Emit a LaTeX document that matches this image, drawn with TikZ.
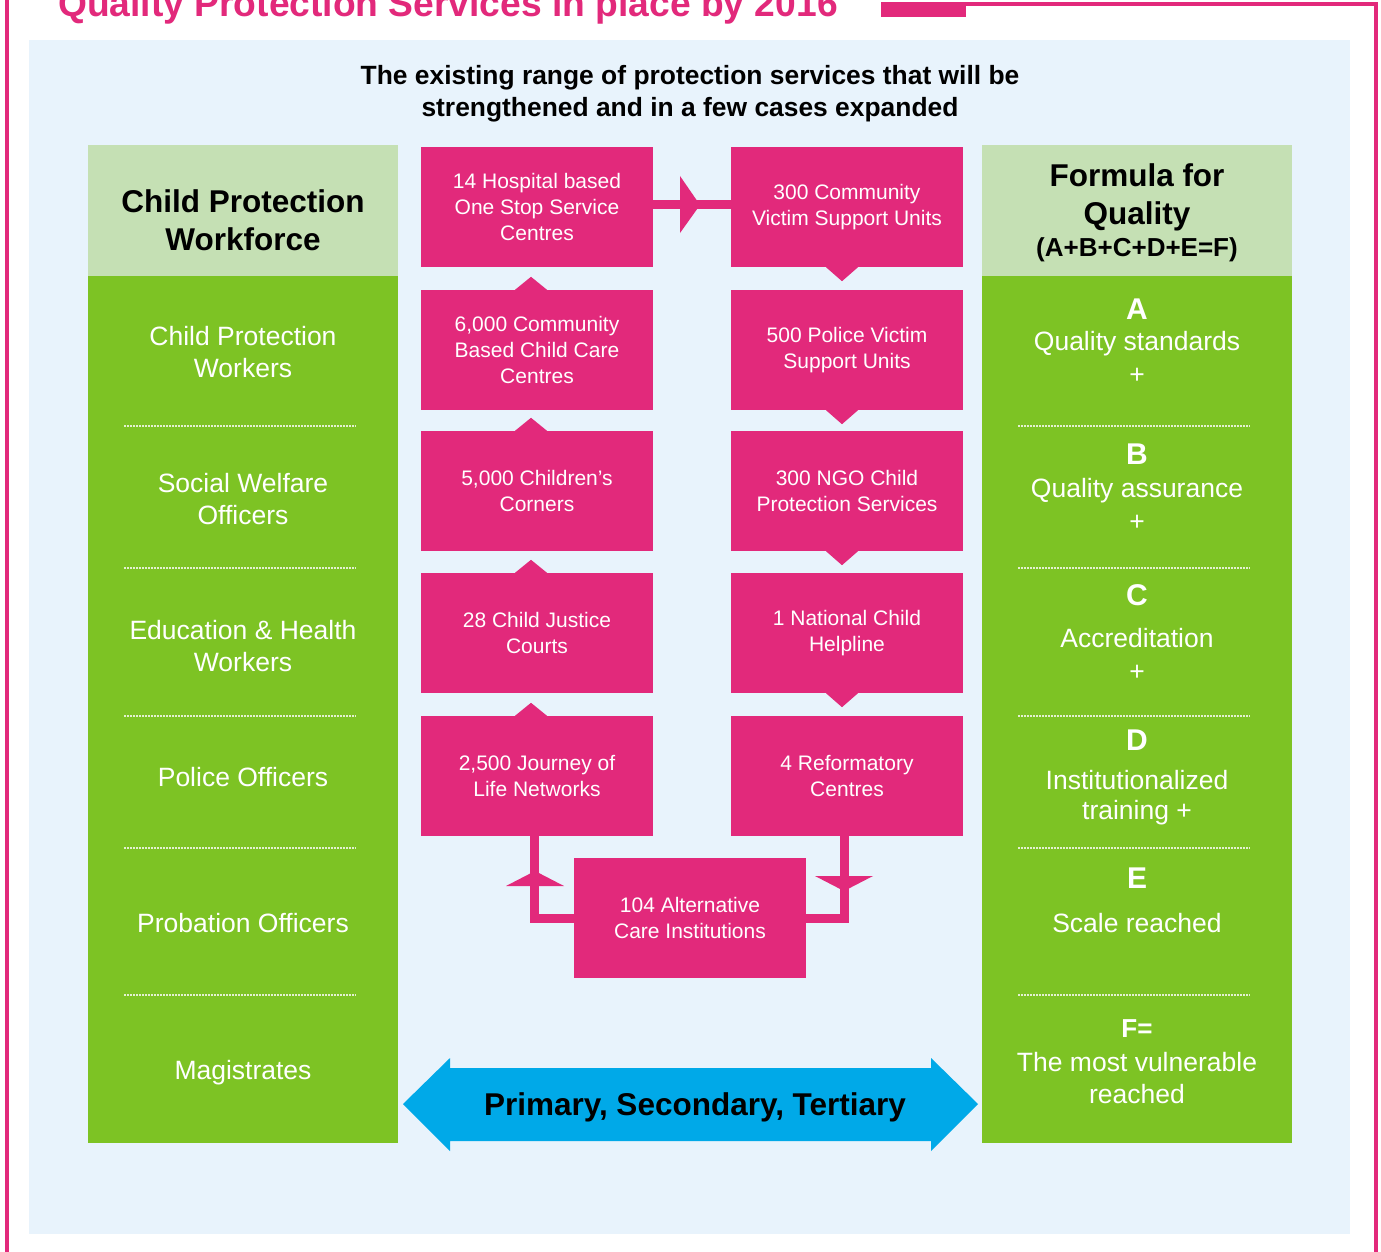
\documentclass[tikz,border=0pt]{standalone}
\usepackage{fontspec}
\setmainfont{Liberation Sans}
\usetikzlibrary{calc}
\definecolor{pk}{HTML}{E2297B}
\definecolor{gr}{HTML}{7DC324}
\definecolor{lgr}{HTML}{C5E0B4}
\definecolor{lbl}{HTML}{E8F3FC}
\definecolor{bl}{HTML}{00A9E8}
\definecolor{dotc}{HTML}{E3F0D0}
\begin{document}
\begin{tikzpicture}[x=1pt,y=-1pt,
  pbox/.style={fill=pk,minimum width=232pt,minimum height=120pt,inner sep=0pt,text=white,align=center,font=\fontsize{21}{26}\selectfont},
  gtext/.style={text=white,align=center,inner sep=0pt,font=\fontsize{26.5}{32}\selectfont},
  gletter/.style={text=white,inner sep=0pt,font=\bfseries\fontsize{30}{33}\selectfont},
  htext/.style={text=black,align=center,inner sep=0pt,font=\bfseries\fontsize{31.5}{38}\selectfont},
  colbox/.style={anchor=north west,minimum width=310pt,inner sep=0pt,outer sep=0pt},
  sepline/.style={draw=dotc,line width=1.6pt,dash pattern=on 1.6pt off 1.4pt},
  conn/.style={draw=pk,line width=9pt},
]
\useasboundingbox (0,0) rectangle (1381,1252);
\fill[white] (0,0) rectangle (1381,1252);
% frame
\fill[pk] (5,0) rectangle (9,1252);
\fill[pk] (966,2) rectangle (1378,6);
\fill[pk] (1374,2) rectangle (1378,1252);
\fill[pk] (881,2) rectangle (966,17);
\node[anchor=base,text=pk,inner sep=0pt,font=\bfseries\fontsize{37.2}{40}\selectfont] (title) at (448,17) {Quality Protection Services in place by 2016};
% background panel
\fill[lbl] (29,40) rectangle (1350,1234);
\node[align=center,inner sep=0pt,font=\bfseries\fontsize{26.4}{32}\selectfont] (head) at (690,94) {The existing range of protection services that will be\\strengthened and in a few cases expanded};

% left column
\node[colbox,fill=lgr,minimum height=131pt] (lhead) at (88,145) {};
\node[colbox,fill=gr,minimum height=867pt] (lbody) at (88,276) {};
\node[htext] (lht) at (243,220) {Child Protection\\Workforce};
\node[gtext] (w1) at (243,352) {Child Protection\\Workers};
\node[gtext] (w2) at (243,499) {Social Welfare\\Officers};
\node[gtext] (w3) at (243,646) {Education \& Health\\Workers};
\node[gtext] (w4) at (243,777) {Police Officers};
\node[gtext] (w5) at (243,923) {Probation Officers};
\node[gtext] (w6) at (243,1073) {Magistrates};

% right column
\node[colbox,fill=lgr,minimum height=131pt] (rhead) at (982,145) {};
\node[colbox,fill=gr,minimum height=867pt] (rbody) at (982,276) {};
\node[htext] (rht) at (1137,197) {Formula for\\Quality};
\node[htext,font=\bfseries\fontsize{26}{30}\selectfont] (rht2) at (1137,250) {(A+B+C+D+E=F)};
\node[gletter] (fa) at (1137,309) {A};
\node[gtext] (fa2) at (1137,344) {Quality standards};
\node[gtext] (fa3) at (1137,376) {+};
\node[gletter] (fb) at (1137,454) {B};
\node[gtext] (fb2) at (1137,491) {Quality assurance};
\node[gtext] (fb3) at (1137,523) {+};
\node[gletter] (fc) at (1137,595) {C};
\node[gtext] (fc2) at (1137,638) {Accreditation};
\node[gtext] (fc3) at (1137,673) {+};
\node[gletter] (fd) at (1137,740) {D};
\node[gtext] (fd2) at (1137,780) {Institutionalized};
\node[gtext] (fd3) at (1137,813) {training +};
\node[gletter] (fe) at (1137,878) {E};
\node[gtext] (fe2) at (1137,923) {Scale reached};
\node[gletter,font=\bfseries\fontsize{26}{30}\selectfont] (ff) at (1137,1029) {F=};
\node[gtext] (ff2) at (1137,1062) {The most vulnerable};
\node[gtext] (ff3) at (1137,1094) {reached};

\foreach \yy in {426,568,716,848,995} {
  \draw[sepline] (124,\yy) -- (356,\yy);
  \draw[sepline] (1018,\yy) -- (1250,\yy);
}

% pink boxes
\node[pbox] (L1) at (537,207) {14 Hospital based\\One Stop Service\\Centres};
\node[pbox] (L2) at (537,350) {6,000 Community\\Based Child Care\\Centres};
\node[pbox] (L3) at (537,491) {5,000 Children’s\\Corners};
\node[pbox] (L4) at (537,633) {28 Child Justice\\Courts};
\node[pbox] (L5) at (537,776) {2,500 Journey of\\Life Networks};
\node[pbox] (R1) at (847,207) {300 Community\\Victim Support Units};
\node[pbox] (R2) at (847,350) {500 Police Victim\\Support Units};
\node[pbox] (R3) at (847,491) {300 NGO Child\\Protection Services};
\node[pbox] (R4) at (847,633) {1 National Child\\Helpline};
\node[pbox] (R5) at (847,776) {4 Reformatory\\Centres};
\node[pbox] (B) at (690,918) {104 Alternative\\Care Institutions};

% notches
\foreach \n in {L2,L3,L4,L5}
  \fill[pk] ($(\n.north)+(-22,0)$) -- ($(\n.north)+(-6,-13)$) -- ($(\n.north)+(10,0)$) -- cycle;
\foreach \n in {R1,R2,R3,R4}
  \fill[pk] ($(\n.south)+(-21,0)$) -- ($(\n.south)+(-5,14)$) -- ($(\n.south)+(11,0)$) -- cycle;

% connectors
\draw[conn] ([yshift=2pt]L1.east) -- ([yshift=2pt]R1.west);
\fill[pk] (680,176) -- (700,205) -- (680,233) -- cycle;
\draw[conn] ([xshift=-2.5pt]L5.south) |- (B.west);
\draw[conn] ([xshift=-2.5pt]R5.south) |- (B.east);
\fill[pk] (506,886) -- (535,871) -- (564,886) -- cycle;
\fill[pk] (815,876) -- (844,891) -- (873,876) -- cycle;

% blue double arrow
\fill[bl] (403,1104) -- (450,1058) -- (450,1068) -- (931,1068) -- (931,1058) -- (978,1104)
  -- (931,1151) -- (931,1141) -- (450,1141) -- (450,1151) -- cycle;
\node[inner sep=0pt,font=\bfseries\fontsize{31.5}{36}\selectfont] (pst) at (695,1107) {Primary, Secondary, Tertiary};
\end{tikzpicture}
\end{document}
